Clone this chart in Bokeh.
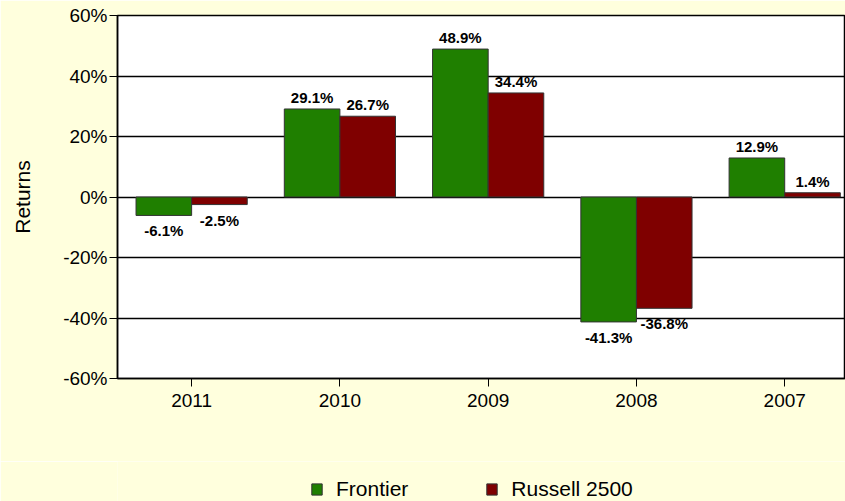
import numpy as np
from bokeh.plotting import figure
from bokeh.layouts import column
from bokeh.models import (ColumnDataSource, FixedTicker, PrintfTickFormatter,
                          Legend, LegendItem, LabelSet)
from bokeh.core.properties import value
from bokeh.embed import file_html
from bokeh.resources import INLINE

years = ["2011", "2010", "2009", "2008", "2007"]
frontier = [-6.1, 29.1, 48.9, -41.3, 12.9]
russell = [-2.5, 26.7, 34.4, -36.8, 1.4]
y_ticks = [-60, -40, -20, 0, 20, 40, 60]
series_names = ["Frontier", "Russell 2500"]

GREEN = "#1F7F00"
RED = "#7F0000"
BG = "#FFFFDD"
FONT = "Liberation Sans"

idx = np.arange(len(years))
bw = 0.375

p = figure(width=845, height=461, output_backend="svg", toolbar_location=None,
           x_range=(-0.5, 4.41), y_range=(-60, 60),
           min_border_left=117, min_border_right=0, min_border_top=15,
           min_border_bottom=83)
p.background_fill_color = "white"
p.border_fill_color = BG
p.outline_line_color = "black"
p.outline_line_width = 1.5

def labels_for(vals):
    return [f"{v:.1f}%" for v in vals]

src_f = ColumnDataSource(dict(x=idx - bw / 2, top=frontier, lab=labels_for(frontier)))
src_r = ColumnDataSource(dict(x=idx + bw / 2, top=russell, lab=labels_for(russell)))

rf = p.vbar(x="x", top="top", bottom=0, width=bw, source=src_f,
            fill_color=GREEN, line_color="#333333", line_width=1)
rr = p.vbar(x="x", top="top", bottom=0, width=bw, source=src_r,
            fill_color=RED, line_color="#333333", line_width=1)

for src, vals in ((src_f, frontier), (src_r, russell)):
    pos = ColumnDataSource(dict(
        x=[x for x, v in zip(src.data["x"], vals) if v >= 0],
        y=[v for v in vals if v >= 0],
        lab=[l for l, v in zip(src.data["lab"], vals) if v >= 0]))
    neg = ColumnDataSource(dict(
        x=[x for x, v in zip(src.data["x"], vals) if v < 0],
        y=[v for v in vals if v < 0],
        lab=[l for l, v in zip(src.data["lab"], vals) if v < 0]))
    p.add_layout(LabelSet(x="x", y="y", text="lab", source=pos,
                          text_align="center", text_baseline="alphabetic",
                          y_offset=6, text_font=value(FONT), text_font_size=value("15px"),
                          text_font_style=value("bold"), text_color="black"))
    p.add_layout(LabelSet(x="x", y="y", text="lab", source=neg,
                          text_align="center", text_baseline="top",
                          y_offset=-7, text_font=value(FONT), text_font_size=value("15px"),
                          text_font_style=value("bold"), text_color="black"))

# x axis
p.xaxis.ticker = FixedTicker(ticks=list(idx))
p.xaxis.major_label_overrides = {int(i): y for i, y in zip(idx, years)}
p.xaxis.major_label_text_font = FONT
p.xaxis.major_label_text_font_size = "19px"
p.xaxis.major_label_text_color = "black"
p.xaxis.major_label_standoff = 7
p.xaxis.major_tick_in = 0
p.xaxis.major_tick_out = 8
p.xaxis.major_tick_line_color = "black"
p.xaxis.minor_tick_line_color = None
p.xaxis.axis_line_color = "black"
p.xaxis.axis_line_width = 1.5

# y axis
p.yaxis.ticker = FixedTicker(ticks=y_ticks)
p.yaxis.formatter = PrintfTickFormatter(format="%d%%")
p.yaxis.major_label_text_font = FONT
p.yaxis.major_label_text_font_size = "19px"
p.yaxis.major_label_text_color = "black"
p.yaxis.major_label_standoff = 2
p.yaxis.major_tick_in = 0
p.yaxis.major_tick_out = 8
p.yaxis.major_tick_line_color = "black"
p.yaxis.minor_tick_line_color = None
p.yaxis.axis_line_color = "black"
p.yaxis.axis_line_width = 1.5
p.yaxis.axis_label = "Returns"
p.yaxis.axis_label_text_font = FONT
p.yaxis.axis_label_text_font_size = "21px"
p.yaxis.axis_label_text_font_style = "normal"
p.yaxis.axis_label_text_color = "black"
p.yaxis.axis_label_standoff = 26

p.xgrid.grid_line_color = None
p.ygrid.grid_line_color = "black"
p.ygrid.grid_line_width = 1.5

# legend strip
q = figure(width=845, height=40, output_backend="svg", toolbar_location=None,
           x_axis_location=None, y_axis_location=None,
           min_border_left=0, min_border_right=0, min_border_top=0, min_border_bottom=0)
q.background_fill_color = BG
q.border_fill_color = BG
q.outline_line_color = None
q.xgrid.grid_line_color = None
q.ygrid.grid_line_color = None
lf = q.vbar(x="x", top="top", bottom=0, width=bw, source=src_f, visible=False,
            fill_color=GREEN, line_color="#333333", line_width=1)
lr = q.vbar(x="x", top="top", bottom=0, width=bw, source=src_r, visible=False,
            fill_color=RED, line_color="#333333", line_width=1)

legend = Legend(items=[LegendItem(label=series_names[0], renderers=[lf]),
                       LegendItem(label=series_names[1], renderers=[lr])],
                orientation="horizontal", location=(193, 0),
                label_text_font=FONT, label_text_font_size="21px",
                label_text_color="black", glyph_width=13, glyph_height=14,
                label_standoff=13, spacing=77, padding=0, margin=0,
                inactive_fill_alpha=0,
                background_fill_alpha=0, border_line_color=None)
q.add_layout(legend, "center")

layout = column(p, q, spacing=0)
open("out.html", "w").write(file_html(layout, INLINE))
